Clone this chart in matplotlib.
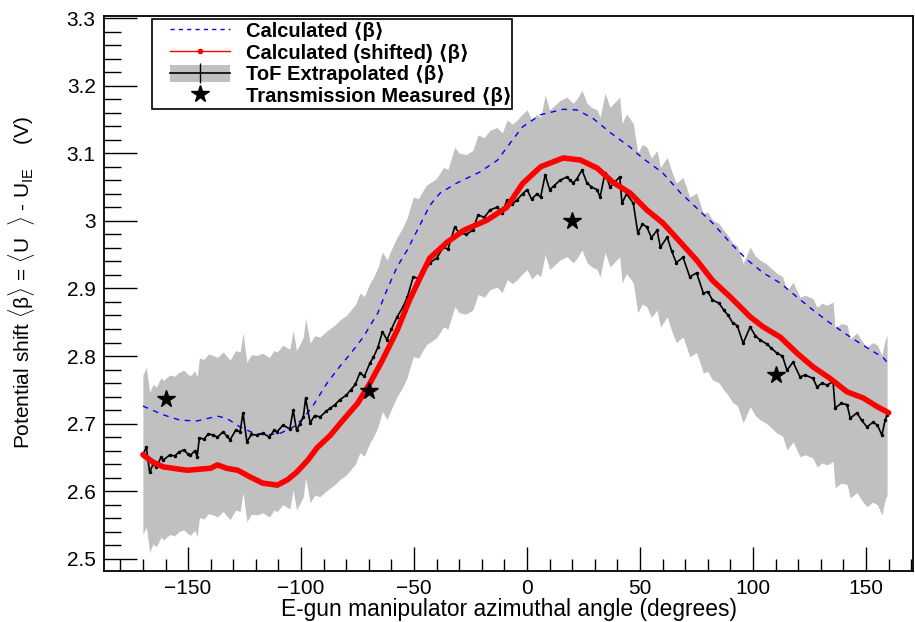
import numpy as np
import matplotlib
matplotlib.use('Agg')
import matplotlib.pyplot as plt
from matplotlib.lines import Line2D
from matplotlib.patches import Patch, Rectangle
from matplotlib.ticker import MultipleLocator, FormatStrFormatter

plt.rcParams['font.family'] = ['Liberation Sans', 'DejaVu Sans']
plt.rcParams['mathtext.fontset'] = 'custom'
plt.rcParams['mathtext.rm'] = 'Liberation Sans'

# Calculated <beta>
calc_x = [-170, -161, -153.5, -146, -137, -133, -127, -121, -115, -109, -103.5, -99, -95,
          -88.5, -83, -78, -72.5, -66, -62, -57.5, -53, -48, -43, -38.5, -31, -21, -13, -7.5,
          -2, 6, 16, 22, 29, 37, 45.6, 51, 60, 68, 75, 82, 90, 97.5, 104.5, 112, 119.5,
          126.5, 134, 143, 152, 157.5, 160]
calc_y = [2.726, 2.713, 2.705, 2.704, 2.711, 2.708, 2.695, 2.686, 2.683, 2.686, 2.695, 2.708,
          2.725, 2.760, 2.784, 2.804, 2.828, 2.864, 2.898, 2.932, 2.957, 2.990, 3.023, 3.041,
          3.056, 3.072, 3.090, 3.115, 3.139, 3.157, 3.165, 3.164, 3.152, 3.130, 3.109, 3.093,
          3.071, 3.041, 3.019, 2.997, 2.967, 2.942, 2.923, 2.908, 2.887, 2.868, 2.849, 2.828,
          2.809, 2.798, 2.788]

# Calculated (shifted) <beta>
shift_x = [-170, -165.5, -161, -150.5, -140, -137, -133, -128, -122.5, -117, -110.5, -106,
           -102, -97, -93, -87, -81.5, -75, -69.5, -64, -57.5, -52, -46, -43, -35.5, -28,
           -17.7, -9, -2, 6, 16, 23.5, 31, 38, 45.6, 53, 60, 69, 75, 82, 90, 98.7, 104.5,
           112, 119.5, 126.5, 134, 141.6, 148.7, 155, 160]
shift_y = [2.654, 2.643, 2.636, 2.631, 2.634, 2.639, 2.634, 2.631, 2.621, 2.612, 2.609, 2.617,
           2.628, 2.646, 2.664, 2.683, 2.705, 2.730, 2.760, 2.794, 2.838, 2.883, 2.925, 2.945,
           2.968, 2.986, 3.001, 3.020, 3.055, 3.080, 3.093, 3.090, 3.078, 3.057, 3.041, 3.016,
           2.997, 2.964, 2.942, 2.912, 2.887, 2.858, 2.843, 2.828, 2.804, 2.784, 2.767, 2.747,
           2.738, 2.725, 2.716]

# ToF extrapolated <beta>
tof_x = [-170, -168.5, -167, -165.5, -164, -162, -161, -158, -156, -154, -152, -150, -149,
         -147, -146, -145, -143, -141, -139, -137, -134.5, -133, -131.4, -129, -127, -125.7,
         -124, -122, -119.5, -117, -114, -112, -110.6, -108, -105, -103.5, -102, -100.5, -99,
         -98, -96, -94, -91.6, -89, -87, -85, -83, -80, -78, -76, -74, -72, -69.5, -68, -66,
         -64, -62, -60, -57.5, -55, -53, -50.4, -48, -46, -44.5, -43, -40, -37, -35, -32, -30,
         -27, -24, -21.7, -19, -16.4, -13.3, -11, -8.8, -6.5, -4.4, -2, 0, 2, 4.4, 6, 8, 10,
         12, 14.6, 17.7, 19, 20.4, 22, 24.3, 26.5, 28.5, 31, 32.3, 34.5, 36.7, 39, 41, 42, 44,
         47, 49, 51, 53, 55, 57.5, 59, 62, 64, 66, 69, 72, 75, 78, 80, 82, 85, 87, 89, 91, 93,
         95.6, 98.7, 101, 103, 106, 108, 110.6, 113, 115, 117.7, 120.8, 123, 126.5, 128.3,
         130.5, 132.7, 135.4, 136.3, 139, 141.6, 143, 146, 148, 150.4, 153, 155, 157, 158.4,
         159.3]
tof_y = [2.654, 2.665, 2.628, 2.640, 2.636, 2.650, 2.646, 2.654, 2.652, 2.658, 2.661, 2.655,
         2.653, 2.660, 2.651, 2.679, 2.677, 2.685, 2.683, 2.680, 2.688, 2.682, 2.676, 2.690,
         2.688, 2.716, 2.673, 2.684, 2.683, 2.686, 2.680, 2.690, 2.688, 2.698, 2.692, 2.720,
         2.690, 2.700, 2.710, 2.738, 2.701, 2.712, 2.710, 2.718, 2.723, 2.728, 2.735, 2.742,
         2.750, 2.758, 2.775, 2.770, 2.790, 2.798, 2.813, 2.836, 2.824, 2.840, 2.858, 2.872,
         2.887, 2.917, 2.915, 2.927, 2.935, 2.938, 2.945, 2.961, 2.958, 2.991, 2.982, 2.980,
         2.986, 3.009, 3.005, 3.016, 3.020, 3.012, 3.031, 3.025, 3.031, 3.040, 3.046, 3.032,
         3.040, 3.035, 3.068, 3.046, 3.052, 3.060, 3.065, 3.060, 3.056, 3.062, 3.075, 3.056,
         3.050, 3.046, 3.035, 3.071, 3.050, 3.058, 3.065, 3.026, 3.040, 3.026, 2.982, 2.995,
         2.991, 2.975, 2.986, 2.961, 2.976, 2.955, 2.938, 2.946, 2.917, 2.923, 2.893, 2.895,
         2.883, 2.878, 2.868, 2.860, 2.849, 2.845, 2.819, 2.843, 2.830, 2.824, 2.818, 2.812,
         2.804, 2.800, 2.779, 2.791, 2.769, 2.772, 2.767, 2.754, 2.760, 2.757, 2.762, 2.723,
         2.730, 2.728, 2.708, 2.716, 2.705, 2.695, 2.702, 2.698, 2.683, 2.705, 2.713]
tof_err = 0.118

# Transmission measured <beta>
trans_x = [-160, -70, 20, 110]
trans_y = [2.737, 2.748, 2.999, 2.772]

tof_x = np.array(tof_x)
tof_y = np.array(tof_y)

fig = plt.figure(figsize=(9.15, 6.22), dpi=100)
ax = fig.add_axes([0.1137, 0.0820, 0.8842, 0.8923])

ax.fill_between(tof_x, tof_y - tof_err, tof_y + tof_err, color='#c0c0c0', lw=0, zorder=1)
ax.plot(tof_x, tof_y, color='black', lw=1.2, marker='o', ms=1.5, zorder=3)
ax.plot(calc_x, calc_y, color='blue', lw=1, dashes=(4, 4), zorder=2)
ax.plot(shift_x, shift_y, color='red', lw=4, solid_capstyle='round', solid_joinstyle='round',
        zorder=4)
ax.plot(trans_x, trans_y, ls='none', marker='*', color='black', ms=13, zorder=5)

ax.set_xlim(-187.2, 170.8)
ax.set_ylim(2.482, 3.303)
ax.xaxis.set_major_locator(MultipleLocator(50))
ax.xaxis.set_minor_locator(MultipleLocator(10))
ax.yaxis.set_major_locator(MultipleLocator(0.1))
ax.yaxis.set_minor_locator(MultipleLocator(0.02))
ax.yaxis.set_major_formatter(FormatStrFormatter('%g'))
ax.tick_params(axis='both', which='both', direction='in', top=False, right=False,
               labelsize=15, width=1)
ax.tick_params(axis='x', which='major', length=17, pad=6)
ax.tick_params(axis='x', which='minor', length=8.5)
ax.tick_params(axis='y', which='major', length=24, pad=6)
ax.tick_params(axis='y', which='minor', length=12)
for s in ax.spines.values():
    s.set_linewidth(1.3)

ax.set_xlabel('E-gun manipulator azimuthal angle (degrees)', fontsize=16.4, labelpad=0)
ax.set_ylabel('Potential shift $\\langle$\u03b2$\\rangle$ = $\\langle$U  $\\rangle$ - U$_{\\rm IE}$    (V)',
              fontsize=15)
ax.yaxis.set_label_coords(-0.083, 0.52)

# legend box drawn separately, entries placed inside
ax.add_patch(Rectangle((0.0593, 0.832), 0.445, 0.1626, transform=ax.transAxes,
                       facecolor='white', edgecolor='black', lw=1.2, zorder=6))
handles = [
    Line2D([], [], color='blue', lw=1, dashes=(3, 3)),
    Line2D([], [], color='red', lw=1, marker='o', ms=3),
    (Patch(facecolor='#c0c0c0', edgecolor='none'),
     Line2D([], [], color='black', lw=1.2, marker='|', ms=14, mew=1)),
    Line2D([], [], ls='none', marker='*', color='black', ms=13),
]
labels = ['Calculated \u27e8\u03b2\u27e9', 'Calculated (shifted) \u27e8\u03b2\u27e9',
          'ToF Extrapolated \u27e8\u03b2\u27e9', 'Transmission Measured \u27e8\u03b2\u27e9']
leg = ax.legend(handles, labels, loc='upper left', bbox_to_anchor=(0.081, 0.99),
                prop={'weight': 'bold', 'size': 14.5}, frameon=False,
                handlelength=3.0, handleheight=0.9, labelspacing=0.12, borderpad=0,
                handletextpad=0.8, numpoints=1, borderaxespad=0)
leg.set_zorder(7)

plt.savefig('out.png', dpi=100)
